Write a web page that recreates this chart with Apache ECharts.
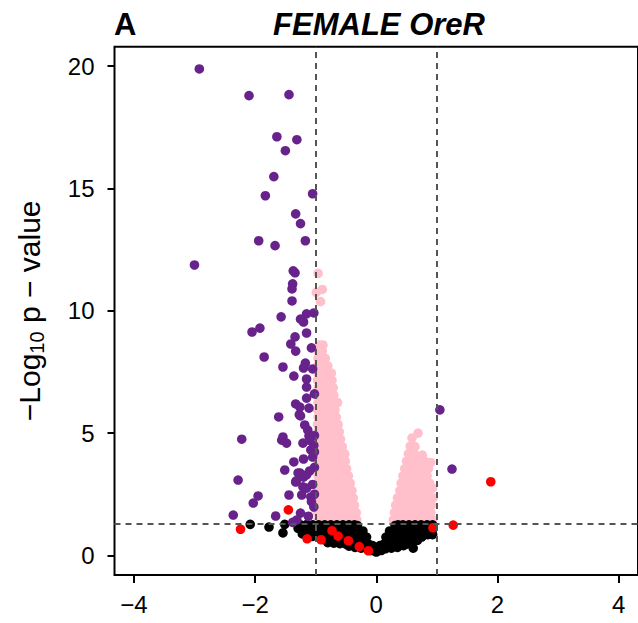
<!DOCTYPE html>
<html><head><meta charset="utf-8">
<script src="https://cdn.jsdelivr.net/npm/echarts@6/dist/echarts.min.js"></script>
<style>html,body{margin:0;padding:0;background:#fff}#c{width:638px;height:623px}</style>
</head><body><div id="c"></div>
<script>
const xTicks = [-4, -2, 0, 2, 4];
const yTicks = [0, 5, 10, 15, 20];
const foldCut = [-1, 1];
const pCut = [1.3];

const pinkPts = [
[-0.96,1.45],[-0.86,1.45],[-0.76,1.45],[-0.66,1.45],[-0.56,1.45],[-0.46,1.45],[-0.37,1.45],[-0.32,1.45],
[-0.97,1.75],[-0.87,1.75],[-0.77,1.75],[-0.67,1.75],[-0.57,1.75],[-0.47,1.75],[-0.39,1.75],[-0.33,1.75],
[-0.96,2.05],[-0.86,2.05],[-0.76,2.05],[-0.66,2.05],[-0.56,2.05],[-0.46,2.05],[-0.36,2.05],
[-0.97,2.35],[-0.87,2.35],[-0.77,2.35],[-0.67,2.35],[-0.57,2.35],[-0.47,2.35],[-0.38,2.35],
[-0.96,2.65],[-0.86,2.65],[-0.76,2.65],[-0.66,2.65],[-0.56,2.65],[-0.47,2.65],[-0.40,2.65],
[-0.97,2.95],[-0.87,2.95],[-0.77,2.95],[-0.67,2.95],[-0.57,2.95],[-0.49,2.95],[-0.43,2.95],
[-0.96,3.25],[-0.86,3.25],[-0.76,3.25],[-0.66,3.25],[-0.56,3.25],[-0.46,3.25],
[-0.97,3.55],[-0.87,3.55],[-0.77,3.55],[-0.67,3.55],[-0.58,3.55],[-0.49,3.55],
[-0.96,3.85],[-0.86,3.85],[-0.76,3.85],[-0.66,3.85],[-0.58,3.85],[-0.51,3.85],
[-0.97,4.15],[-0.87,4.15],[-0.77,4.15],[-0.67,4.15],[-0.59,4.15],[-0.52,4.15],
[-0.96,4.45],[-0.86,4.45],[-0.76,4.45],[-0.66,4.45],[-0.56,4.45],
[-0.97,4.75],[-0.87,4.75],[-0.77,4.75],[-0.67,4.75],[-0.59,4.75],
[-0.96,5.05],[-0.86,5.05],[-0.76,5.05],[-0.67,5.05],[-0.61,5.05],
[-0.97,5.35],[-0.87,5.35],[-0.77,5.35],[-0.68,5.35],[-0.63,5.35],
[-0.96,5.65],[-0.86,5.65],[-0.76,5.65],[-0.66,5.65],
[-0.97,5.95],[-0.87,5.95],[-0.77,5.95],[-0.68,5.95],
[-0.96,6.25],[-0.87,6.25],[-0.78,6.25],[-0.70,6.25],[-0.64,6.25],
[-0.97,6.55],[-0.87,6.55],[-0.78,6.55],[-0.70,6.55],
[-0.96,6.85],[-0.86,6.85],[-0.77,6.85],[-0.71,6.85],
[-0.97,7.15],[-0.88,7.15],[-0.80,7.15],[-0.73,7.15],
[-0.96,7.45],[-0.87,7.45],[-0.79,7.45],[-0.74,7.45],
[-0.97,7.75],[-0.88,7.75],[-0.80,7.75],
[-0.96,8.05],[-0.88,8.05],[-0.84,8.05],
[-0.96,8.35],[-0.89,8.35],
[-0.94,8.6],[-0.88,8.6],
[-0.96,11.53],[-0.99,10.75],[-0.89,10.87],[-0.92,10.37],
[0.28,1.45],[0.38,1.45],[0.48,1.45],[0.58,1.45],[0.68,1.45],[0.78,1.45],[0.88,1.45],[0.93,1.45],
[0.30,1.75],[0.40,1.75],[0.50,1.75],[0.60,1.75],[0.70,1.75],[0.80,1.75],[0.90,1.75],
[0.32,2.05],[0.42,2.05],[0.52,2.05],[0.62,2.05],[0.72,2.05],[0.82,2.05],[0.91,2.05],
[0.35,2.35],[0.45,2.35],[0.55,2.35],[0.65,2.35],[0.75,2.35],[0.85,2.35],[0.94,2.35],
[0.39,2.65],[0.49,2.65],[0.59,2.65],[0.69,2.65],[0.79,2.65],[0.85,2.65],[0.93,2.75],
[0.41,2.95],[0.51,2.95],[0.61,2.95],[0.71,2.95],[0.81,2.95],[0.88,2.95],
[0.44,3.25],[0.54,3.25],[0.64,3.25],[0.74,3.25],[0.84,3.25],
[0.47,3.55],[0.57,3.55],[0.67,3.55],[0.77,3.55],[0.86,3.55],
[0.50,3.85],[0.60,3.85],[0.70,3.85],[0.80,3.85],[0.90,3.8],
[0.53,4.15],[0.63,4.15],[0.76,4.1],
[0.56,4.47],[0.64,4.45],
[0.59,4.8],[0.69,5.0]
];

const blackPts = [
[-1.25,1.25],[-1.15,1.25],[-1.05,1.25],[-0.95,1.25],[-0.85,1.25],[-0.75,1.25],[-0.65,1.25],[-0.55,1.25],[-0.45,1.25],[-0.36,1.25],[-0.31,1.22],
[0.31,1.22],[0.36,1.25],[0.44,1.25],[0.54,1.25],[0.64,1.25],[0.74,1.25],[0.84,1.25],[0.93,1.25],
[-1.22,1.0],[-1.12,1.0],[-1.02,1.0],[-0.92,1.0],[-0.82,1.0],[-0.72,1.0],[-0.62,1.0],[-0.52,1.0],[-0.42,1.0],[-0.32,1.0],[-0.22,1.0],
[0.22,1.0],[0.32,1.0],[0.42,1.0],[0.52,1.0],[0.62,1.0],[0.72,1.0],[0.82,1.0],[0.92,1.0],
[-1.05,0.78],[-0.95,0.75],[-0.85,0.75],[-0.75,0.75],[-0.65,0.75],[-0.55,0.75],[-0.45,0.75],[-0.35,0.75],[-0.25,0.75],[-0.16,0.75],
[0.16,0.75],[0.25,0.75],[0.35,0.75],[0.45,0.75],[0.55,0.75],[0.65,0.75],[0.75,0.75],[0.85,0.85],[0.93,0.85],
[-0.8,0.52],[-0.7,0.5],[-0.6,0.48],[-0.5,0.46],[-0.4,0.45],[-0.3,0.42],[-0.2,0.42],[-0.12,0.45],[-0.06,0.4],
[0.06,0.4],[0.12,0.45],[0.2,0.42],[0.3,0.42],[0.4,0.45],[0.5,0.46],[0.6,0.55],[0.68,0.62],
[-0.45,0.38],[-0.35,0.33],[-0.25,0.3],[-0.15,0.27],[-0.08,0.2],[0,0.14],[0.08,0.2],[0.15,0.27],[0.25,0.3],[0.35,0.33],[0.45,0.4],
[0.61,0.3],[-1.22,0.88],[-1.29,1.11],[-1.16,1.24],
[-2.08,1.27],[-1.77,1.16],[-1.54,0.92],[-1.51,1.27]
];

const purplePts = [
[-2.92,19.88],[-2.10,18.79],[-1.44,18.83],[-1.64,17.11],[-1.31,16.99],[-1.50,16.54],[-1.69,15.48],
[-1.83,14.70],[-1.05,14.78],[-1.33,13.96],[-1.25,13.56],[-1.94,12.86],[-1.67,12.66],[-1.17,12.86],
[-3.00,11.87],[-1.37,11.63],[-1.34,11.55],[-1.38,11.10],[-1.39,10.89],[-1.39,10.40],
[-1.57,9.75],[-1.25,9.66],[-1.20,9.54],[-1.15,9.87],[-1.03,9.91],[-2.05,9.13],[-1.92,9.29],
[-1.34,8.93],[-1.15,9.09],[-1.41,8.64],[-1.33,8.35],[-1.07,8.48],[-1.85,8.11],[-1.54,7.70],
[-1.17,7.86],[-1.20,7.66],[-1.05,7.62],[-1.36,7.33],[-1.15,6.88],[-1.15,7.21],[-1.02,6.60],
[-1.15,6.43],[-1.33,6.19],[-1.26,6.06],[-1.11,6.02],[-1.25,5.70],[-1.61,5.66],[-1.18,5.33],
[-1.13,5.12],[-2.22,4.75],[-1.54,4.84],[-1.56,4.71],[-1.48,4.59],[-1.21,4.59],[-1.11,4.88],
[-1.08,4.31],[-1.05,4.02],[-1.20,3.94],[-1.36,3.82],[-1.02,4.23],[-1.51,3.49],[-1.26,3.37],
[-1.15,3.29],[-1.20,3.20],[-1.29,3.37],[-1.33,3.00],[-1.21,2.80],[-1.15,2.75],[-2.28,3.08],
[-1.95,2.43],[-2.03,2.14],[-1.44,2.47],[-1.23,2.47],[-1.08,2.39],[-2.36,1.65],[-1.66,1.61],
[-1.25,1.73],[-1.03,1.98],[-1.31,1.45],[-1.38,1.35],
[-1.02,4.9],[-1.03,4.5],[-1.02,3.6],[-1.02,2.5],[-1.27,5.75],[-1.10,4.7],[-1.10,3.45],
[-1.32,3.05],[-1.07,2.2],[-1.05,2.9],[-1.12,1.6],
[1.05,5.95],[1.25,3.53]
];

const redPts = [
[1.89,3.01],[1.27,1.24],[0.935,1.13],[-1.45,1.86],[-2.24,1.07],[-1.14,0.68],[-0.91,0.64],
[-0.73,1.01],[-0.63,0.79],[-0.46,0.60],[-0.28,0.36],[-0.13,0.19]
];

const font = '"Liberation Sans", Arial, Helvetica, sans-serif';
const chart = echarts.init(document.getElementById('c'), null, {renderer: 'svg'});
const minusFmt = v => (v < 0 ? '\u2212' + Math.abs(v) : String(v));
const pt = (data, color) => ({
  type: 'scatter', data: data, symbol: 'circle', symbolSize: 9.6,
  itemStyle: {color: color, opacity: 1}, silent: true
});
chart.setOption({
  animation: false,
  backgroundColor: '#ffffff',
  title: [
    {text: 'A', left: 114, top: 9, padding: 0,
     textStyle: {fontFamily: font, fontSize: 31, fontWeight: 'bold', color: '#000'}},
    {text: 'FEMALE OreR', left: 379, top: 9, padding: 0, textAlign: 'center',
     textStyle: {fontFamily: font, fontSize: 31, fontWeight: 'bold', fontStyle: 'italic', color: '#000'}}
  ],
  grid: {left: 114.5, top: 46.7, width: 525.7, height: 528.3, show: true,
         borderColor: '#000', borderWidth: 2, backgroundColor: 'transparent'},
  xAxis: {
    type: 'value', min: -4.32, max: 4.32,
    splitLine: {show: false}, axisLine: {show: false, onZero: false},
    axisTick: {show: true, length: 8, inside: false, customValues: xTicks, lineStyle: {color: '#000', width: 2}},
    axisLabel: {customValues: xTicks, margin: 17, fontSize: 24, fontFamily: font, color: '#000', formatter: minusFmt}
  },
  yAxis: {
    type: 'value', min: -0.8, max: 20.79,
    splitLine: {show: false}, axisLine: {show: false, onZero: false},
    axisTick: {show: true, length: 7, customValues: yTicks, lineStyle: {color: '#000', width: 2}},
    axisLabel: {customValues: yTicks, margin: 20, fontSize: 24, fontFamily: font, color: '#000', formatter: minusFmt},
    name: '\u2212Log{sub|10} p \u2212 value',
    nameLocation: 'middle', nameRotate: 90, nameGap: 68,
    nameTextStyle: {fontFamily: font, fontSize: 30, color: '#000', lineHeight: 34,
      rich: {sub: {fontFamily: font, fontSize: 20, color: '#000', verticalAlign: 'bottom', lineHeight: 26}}}
  },
  series: [
    pt(pinkPts, '#FFC0CB'),
    pt(blackPts, '#000000'),
    pt(purplePts, '#68228B'),
    pt(redPts, '#FF0000'),
    {
      type: 'line', data: [], silent: true, z: 10,
      markLine: {
        silent: true, symbol: 'none', animation: false,
        label: {show: false},
        lineStyle: {color: '#555555', width: 2, type: [6, 5]},
        data: foldCut.map(v => ({xAxis: v})).concat(pCut.map(v => ({yAxis: v})))
      }
    }
  ]
});
</script>
</body></html>
